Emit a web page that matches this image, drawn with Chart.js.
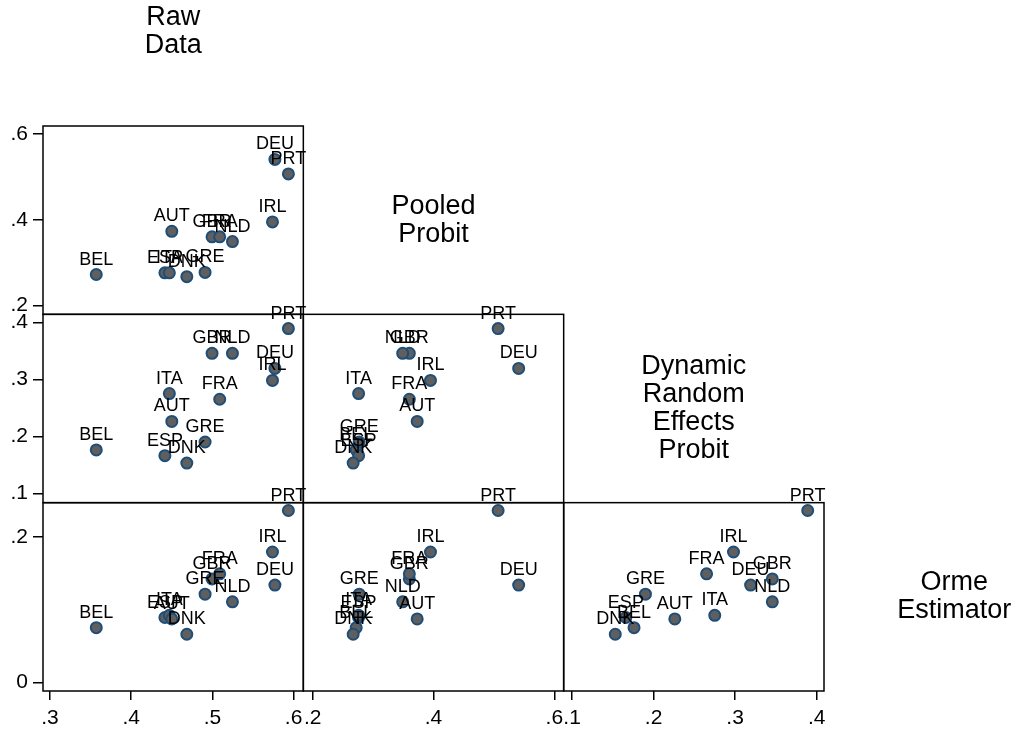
<!DOCTYPE html>
<html>
<head>
<meta charset="utf-8">
<script src="https://cdn.jsdelivr.net/npm/chart.js@4.4.1/dist/chart.umd.min.js"></script>
<style>
  body { margin: 0; background: #fff; }
  #wrap { width: 1022px; height: 732px; position: relative; }
</style>
</head>
<body>
<div id="wrap"><canvas id="matrix"></canvas></div>
<script>
// country codes and the four estimates
const countries = ["BEL", "ESP", "ITA", "AUT", "DNK", "GRE", "GBR", "FRA", "NLD", "IRL", "DEU", "PRT"];
const rawData = [0.357, 0.4415, 0.447, 0.450, 0.4685, 0.491, 0.4996, 0.509, 0.5247, 0.574, 0.577, 0.5936];
const pooledProbit = [0.272, 0.276, 0.276, 0.373, 0.267, 0.277, 0.360, 0.360, 0.349, 0.395, 0.541, 0.507];
const dynamicRE = [0.176, 0.166, 0.275, 0.226, 0.153, 0.190, 0.3456, 0.265, 0.3456, 0.298, 0.319, 0.389];
const ormeEstimator = [0.075, 0.089, 0.092, 0.087, 0.066, 0.121, 0.142, 0.149, 0.1106, 0.179, 0.1335, 0.236];

const varNames = [["Raw", "Data"], ["Pooled", "Probit"], ["Dynamic", "Random", "Effects", "Probit"], ["Orme", "Estimator"]];
const variables = [rawData, pooledProbit, dynamicRE, ormeEstimator];

// tick labels per column (x) and per row (y)
const xTicks = [[0.3, 0.4, 0.5, 0.6], [0.2, 0.4, 0.6], [0.1, 0.2, 0.3, 0.4]];
const yTicks = [[0.2, 0.4, 0.6], [0.1, 0.2, 0.3, 0.4], [0, 0.2]];

Chart.defaults.font.family = "'Liberation Sans', Arial, sans-serif";
Chart.defaults.color = "#000";

const fmt = v => v === 0 ? "0" : String(+v.toFixed(2)).replace(/^0\./, ".");

const xRanges = [[0.2914, 0.612], [0.1845, 0.6155], [0.0897, 0.409]];
const yRanges = [[0.179, 0.619], [0.0835, 0.414], [-0.012, 0.2468]];

const scales = {};
xRanges.forEach((r, c) => {
  scales["x" + c] = {
    type: "linear",
    position: "bottom",
    stack: "cols",
    stackWeight: 1,
    weight: 1,
    min: r[0],
    max: r[1],
    afterBuildTicks: s => { s.ticks = xTicks[c].map(v => ({ value: v })); },
    afterFit: s => { s.height = 41; },
    ticks: { callback: fmt, autoSkip: false, maxRotation: 0, padding: 6, font: { size: 21 } },
    grid: { drawOnChartArea: false, drawTicks: true, tickLength: 9, lineWidth: 1.5, color: "#000" },
    border: { display: false }
  };
});
yRanges.forEach((r, i) => {
  scales["y" + (i + 1)] = {
    type: "linear",
    position: "left",
    stack: "rows",
    stackWeight: 1,
    weight: 3 - i,
    min: r[0],
    max: r[1],
    afterBuildTicks: s => { s.ticks = yTicks[i].map(v => ({ value: v })); },
    afterFit: s => { s.width = 43; },
    ticks: { callback: fmt, autoSkip: false, padding: 5, font: { size: 21 } },
    grid: { drawOnChartArea: false, drawTicks: true, tickLength: 10, lineWidth: 1.5, color: "#000" },
    border: { display: false }
  };
});

const datasets = [];
for (let r = 1; r <= 3; r++) {
  for (let c = 0; c < r; c++) {
    datasets.push({
      label: varNames[r].join(" ") + " vs " + varNames[c].join(" "),
      data: countries.map((k, i) => ({ x: variables[c][i], y: variables[r][i] })),
      xAxisID: "x" + c,
      yAxisID: "y" + r,
      pointRadius: 5.5,
      pointBackgroundColor: "#5f5f5f",
      pointBorderColor: "#1f4e79",
      pointBorderWidth: 2
    });
  }
}

const panelPlugin = {
  id: "panels",
  afterDatasetsDraw(chart) {
    const ctx = chart.ctx;
    ctx.save();
    // point labels
    ctx.font = "18px 'Liberation Sans', Arial, sans-serif";
    ctx.fillStyle = "#000";
    ctx.textAlign = "center";
    ctx.textBaseline = "alphabetic";
    chart.data.datasets.forEach((ds, d) => {
      chart.getDatasetMeta(d).data.forEach((pt, i) => {
        ctx.fillText(countries[i], pt.x, pt.y - 10);
      });
    });
    // panel boxes
    ctx.strokeStyle = "#000";
    ctx.lineWidth = 1.5;
    chart.data.datasets.forEach(ds => {
      const xs = chart.scales[ds.xAxisID], ys = chart.scales[ds.yAxisID];
      ctx.strokeRect(xs.left, ys.top, xs.right - xs.left, ys.bottom - ys.top);
    });
    // diagonal variable names
    const a = chart.chartArea;
    const cw = (a.right - a.left) / 3, rh = (a.bottom - a.top) / 3;
    ctx.font = "27px 'Liberation Sans', Arial, sans-serif";
    ctx.textBaseline = "middle";
    varNames.forEach((lines, k) => {
      const cx = a.left + (k + 0.5) * cw;
      const cy = a.top + (k - 0.5) * rh;
      const lh = 28;
      lines.forEach((t, j) => {
        ctx.fillText(t, cx, cy + (j - (lines.length - 1) / 2) * lh);
      });
    });
    ctx.restore();
  }
};

new Chart(document.getElementById("matrix"), {
  type: "scatter",
  data: { datasets },
  options: {
    responsive: true,
    maintainAspectRatio: false,
    animation: false,
    events: [],
    layout: { padding: { top: 126, right: 198, bottom: 0, left: 0 } },
    plugins: { legend: { display: false }, tooltip: { enabled: false } },
    scales
  },
  plugins: [panelPlugin]
});
</script>
</body>
</html>
